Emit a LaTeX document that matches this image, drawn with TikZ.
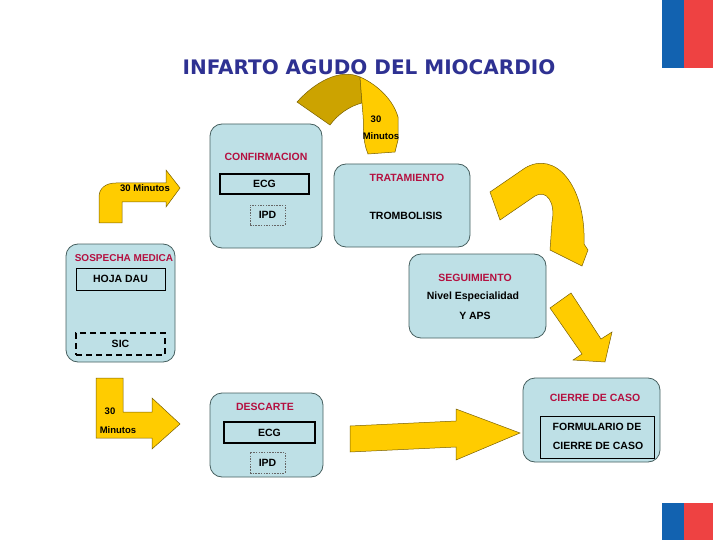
\documentclass[tikz,border=0pt]{standalone}
\usepackage{fontspec}
\setmainfont{Liberation Sans}
\newfontfamily\titlefont{DejaVu Sans}
\usepackage{tikz}
\usetikzlibrary{positioning,shadows}
\definecolor{boxfill}{RGB}{190,224,230}
\definecolor{boxline}{RGB}{70,95,95}
\definecolor{headred}{RGB}{180,16,64}
\definecolor{arrowyel}{RGB}{255,204,0}
\definecolor{arrowolive}{RGB}{204,163,0}
\definecolor{arrowedge}{RGB}{120,95,0}
\definecolor{titleblue}{RGB}{46,49,146}
\definecolor{flagblue}{RGB}{18,98,176}
\definecolor{flagred}{RGB}{238,66,66}
\tikzset{
  stagebox/.style={draw=boxline, fill=boxfill, rounded corners=12pt, line width=0.8pt,
                   inner sep=0pt},
  stagehead/.style={font=\fontsize{10.5}{12}\selectfont\bfseries, text=headred, inner sep=0pt},
  stagetext/.style={font=\fontsize{10.5}{12}\selectfont\bfseries, inner sep=0pt},
  docbox/.style={draw=black, line width=1.4pt, inner sep=0pt,
                 font=\fontsize{10.5}{12}\selectfont\bfseries},
  thinbox/.style={draw=black, line width=0.9pt, inner sep=0pt,
                  font=\fontsize{10.5}{12}\selectfont\bfseries},
  sicbox/.style={draw=black, line width=1.2pt, dash pattern=on 6pt off 4pt, inner sep=0pt,
                 font=\fontsize{10.5}{12}\selectfont\bfseries},
  ipdbox/.style={draw=black!60, line width=0.6pt, dash pattern=on 1.5pt off 1.2pt, inner sep=0pt,
                 font=\fontsize{10.5}{12}\selectfont\bfseries},
  yarrow/.style={fill=arrowyel, draw=arrowedge, line width=0.5pt},
  oarrow/.style={fill=arrowolive, draw=arrowedge, line width=0.5pt},
  timelabel/.style={font=\fontsize{9.5}{11}\selectfont\bfseries, inner sep=0pt}
}

\begin{document}
\begin{tikzpicture}[x=1pt, y=-1pt]
  \useasboundingbox (0,0) rectangle (720,540);

  % Flags
  \fill[flagblue] (662,0) rectangle (684,68);
  \fill[flagred] (684,0) rectangle (713,68);
  \fill[flagblue] (662,503) rectangle (684,540);
  \fill[flagred] (684,503) rectangle (713,540);

  % Title
  \node[font=\titlefont\fontsize{20}{24}\selectfont\bfseries, text=titleblue]
        (title) at (369,67) {INFARTO AGUDO DEL MIOCARDIO};

  % Arrows
  \draw[oarrow] (297,102) .. controls (315,82) and (340,68) .. (360,77)
        -- (362,103) .. controls (350,106) and (338,114) .. (330,125) -- cycle;
  \draw[yarrow] (360,77) .. controls (372,82) and (392,96) .. (398,117)
        -- (398,140) -- (395,152) -- (368,154) .. controls (362,140) and (364,125) .. (363,115)
        -- (362,103) -- cycle;
  \node[timelabel] (t1a) at (376,119) {30};
  \node[timelabel] (t1b) at (381,136) {Minutos};

  \draw[yarrow] (99,223) -- (99,197) .. controls (99,188) and (106,183) .. (116,183)
        -- (166,183) -- (166,170) -- (180,188) -- (166,207) -- (166,202)
        -- (122,202) -- (122,223) -- cycle;
  \node[timelabel] (t2) at (145,188) {30 Minutos};

  \draw[yarrow] (96,378) -- (123,378) -- (123,412) -- (152,412) -- (152,398)
        -- (180,424) -- (152,449) -- (152,438) -- (96,438) -- cycle;
  \node[timelabel] (t3a) at (110,411) {30};
  \node[timelabel] (t3b) at (118,430) {Minutos};

  \draw[yarrow] (350,426) -- (456,421) -- (456,409) -- (520,433) -- (456,460)
        -- (456,447) -- (350,452) -- cycle;

  \draw[yarrow] (490,192) -- (525,168) .. controls (555,150) and (586,185) .. (584,244)
        -- (588,250) -- (582,266) -- (550,250) -- (552,222)
        .. controls (556,202) and (546,189) .. (535,196) -- (500,220) -- cycle;

  \draw[yarrow] (550,308) -- (571,293) -- (601,339) -- (612,332) -- (605,362)
        -- (573,360) -- (582,354) -- cycle;

  % Confirmacion
  \node[stagebox, minimum width=112pt, minimum height=124pt] (conf) at (266,186) {};
  \node[stagehead] (confh) at (266,157) {CONFIRMACION};
  \node[docbox, minimum width=89pt, minimum height=20pt] (confecg) at (264.5,184) {ECG};
  \node[ipdbox, minimum width=35pt, minimum height=20pt] (confipd) at (267.5,215) {IPD};

  % Tratamiento
  \node[stagebox, minimum width=136pt, minimum height=83pt] (trat) at (402,205.5) {};
  \node[stagehead] (trath) at (407,178) {TRATAMIENTO};
  \node[stagetext] (tratt) at (406,216) {TROMBOLISIS};

  % Sospecha medica
  \node[stagebox, minimum width=109pt, minimum height=118pt] (sosp) at (120.5,303) {};
  \node[stagehead, font=\fontsize{10}{12}\selectfont\bfseries] (sosph) at (124,258) {SOSPECHA MEDICA};
  \node[thinbox, minimum width=89pt, minimum height=22pt] (hoja) at (120.5,279) {HOJA DAU};
  \node[sicbox, minimum width=89pt, minimum height=22pt] (sic) at (120.5,344) {SIC};

  % Seguimiento
  \node[stagebox, minimum width=137pt, minimum height=84pt] (seg) at (477.5,296) {};
  \node[stagehead] (segh) at (475,278) {SEGUIMIENTO};
  \node[stagetext] (segt1) at (473,297) {Nivel Especialidad};
  \node[stagetext] (segt2) at (475,316) {Y APS};

  % Cierre de caso
  \node[stagebox, minimum width=137pt, minimum height=84pt] (cierre) at (591.5,420) {};
  \node[stagehead] (cierreh) at (595,398) {CIERRE DE CASO};
  \node[thinbox, minimum width=114pt, minimum height=42pt] (form) at (597,437) {};
  \node[stagetext] (form1) at (597,427) {FORMULARIO DE};
  \node[stagetext] (form2) at (598,446) {CIERRE DE CASO};

  % Descarte
  \node[stagebox, minimum width=113pt, minimum height=84pt] (desc) at (266.5,435) {};
  \node[stagehead] (desch) at (265,407) {DESCARTE};
  \node[docbox, minimum width=91pt, minimum height=21pt] (descecg) at (269.5,432.5) {ECG};
  \node[ipdbox, minimum width=35pt, minimum height=21pt] (descipd) at (267.5,462.5) {IPD};
\end{tikzpicture}
\end{document}
